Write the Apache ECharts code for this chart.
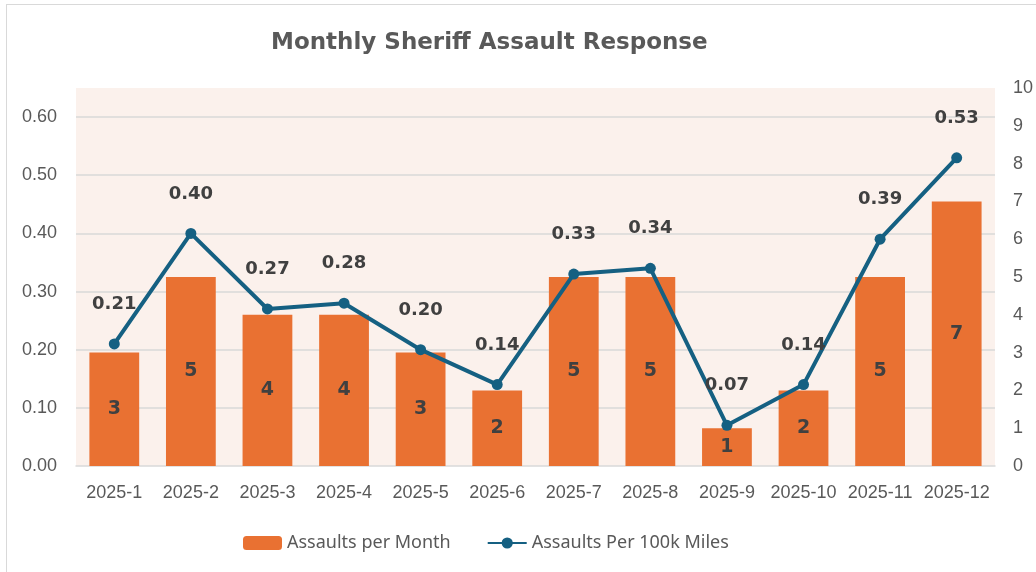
<!DOCTYPE html>
<html>
<head>
<meta charset="utf-8">
<script src="https://cdn.jsdelivr.net/npm/echarts@6/dist/echarts.min.js"></script>
<style>
html,body{margin:0;padding:0;background:#fff;}
#chart{width:1036px;height:572px;}
#frame{position:absolute;left:6px;top:4px;width:1030px;height:568px;border-left:1px solid #d9d9d9;border-top:1px solid #d9d9d9;pointer-events:none;}
</style>
</head>
<body>
<div id="chart"></div>
<div id="frame"></div>
<script>
const categories = ['2025-1','2025-2','2025-3','2025-4','2025-5','2025-6','2025-7','2025-8','2025-9','2025-10','2025-11','2025-12'];
const assaultsPerMonth = [3,5,4,4,3,2,5,5,1,2,5,7];
const assaultsPer100k = [0.21,0.40,0.27,0.28,0.20,0.14,0.33,0.34,0.07,0.14,0.39,0.53];

const chart = echarts.init(document.getElementById('chart'));
const axisFont = 'Liberation Sans, Arial, sans-serif';
const labelFont = 'DejaVu Sans, sans-serif';
chart.setOption({
  animation: false,
  backgroundColor: '#ffffff',
  title: {
    text: 'Monthly Sheriff Assault Response',
    left: 266, top: 27,
    textStyle: {fontFamily: 'DejaVu Sans, sans-serif', fontSize: 23, fontWeight: 'bold', color: '#595959'}
  },
  legend: {
    left: 238, top: 529,
    itemWidth: 39, itemHeight: 14, itemGap: 36,
    textStyle: {fontFamily: 'Noto Sans, sans-serif', fontSize: 18, color: '#595959'},
    data: ['Assaults per Month', 'Assaults Per 100k Miles']
  },
  grid: {
    left: 76, right: 39, top: 88, bottom: 106,
    show: true, backgroundColor: '#FBF1EC', borderWidth: 0
  },
  xAxis: {
    type: 'category', data: categories,
    axisLine: {lineStyle: {color: '#d9d9d9', width: 1.5}},
    axisTick: {show: false},
    axisLabel: {fontFamily: axisFont, fontSize: 18, color: '#595959', margin: 18, interval: 0}
  },
  yAxis: [
    {
      type: 'value', min: 0, max: 0.65, interval: 0.1,
      axisLine: {show: false}, axisTick: {show: false},
      axisLabel: {fontFamily: axisFont, fontSize: 18, color: '#595959', margin: 19, showMaxLabel: false,
        formatter: v => v.toFixed(2)},
      splitLine: {show: true, showMinLine: false, showMaxLine: false, lineStyle: {color: '#d9d9d9', width: 1.5}}
    },
    {
      type: 'value', min: 0, max: 10, interval: 1,
      axisLine: {show: false}, axisTick: {show: false},
      axisLabel: {fontFamily: axisFont, fontSize: 18, color: '#595959', margin: 18},
      splitLine: {show: false}
    }
  ],
  series: [
    {
      name: 'Assaults per Month', type: 'bar', yAxisIndex: 1,
      data: assaultsPerMonth,
      barCategoryGap: '35%',
      itemStyle: {color: '#E97132'},
      label: {show: true, position: 'inside', fontFamily: labelFont, fontSize: 19, fontWeight: 'bold', color: '#404040'},
      z: 2
    },
    {
      name: 'Assaults Per 100k Miles', type: 'line', yAxisIndex: 0,
      data: assaultsPer100k,
      symbol: 'circle', symbolSize: 11,
      lineStyle: {color: '#156082', width: 4},
      itemStyle: {color: '#156082'},
      label: {show: true, position: 'top', distance: 25, fontFamily: labelFont, fontSize: 18, fontWeight: 'bold', color: '#404040',
        formatter: p => p.value.toFixed(2)},
      z: 3
    }
  ]
});
</script>
</body>
</html>
